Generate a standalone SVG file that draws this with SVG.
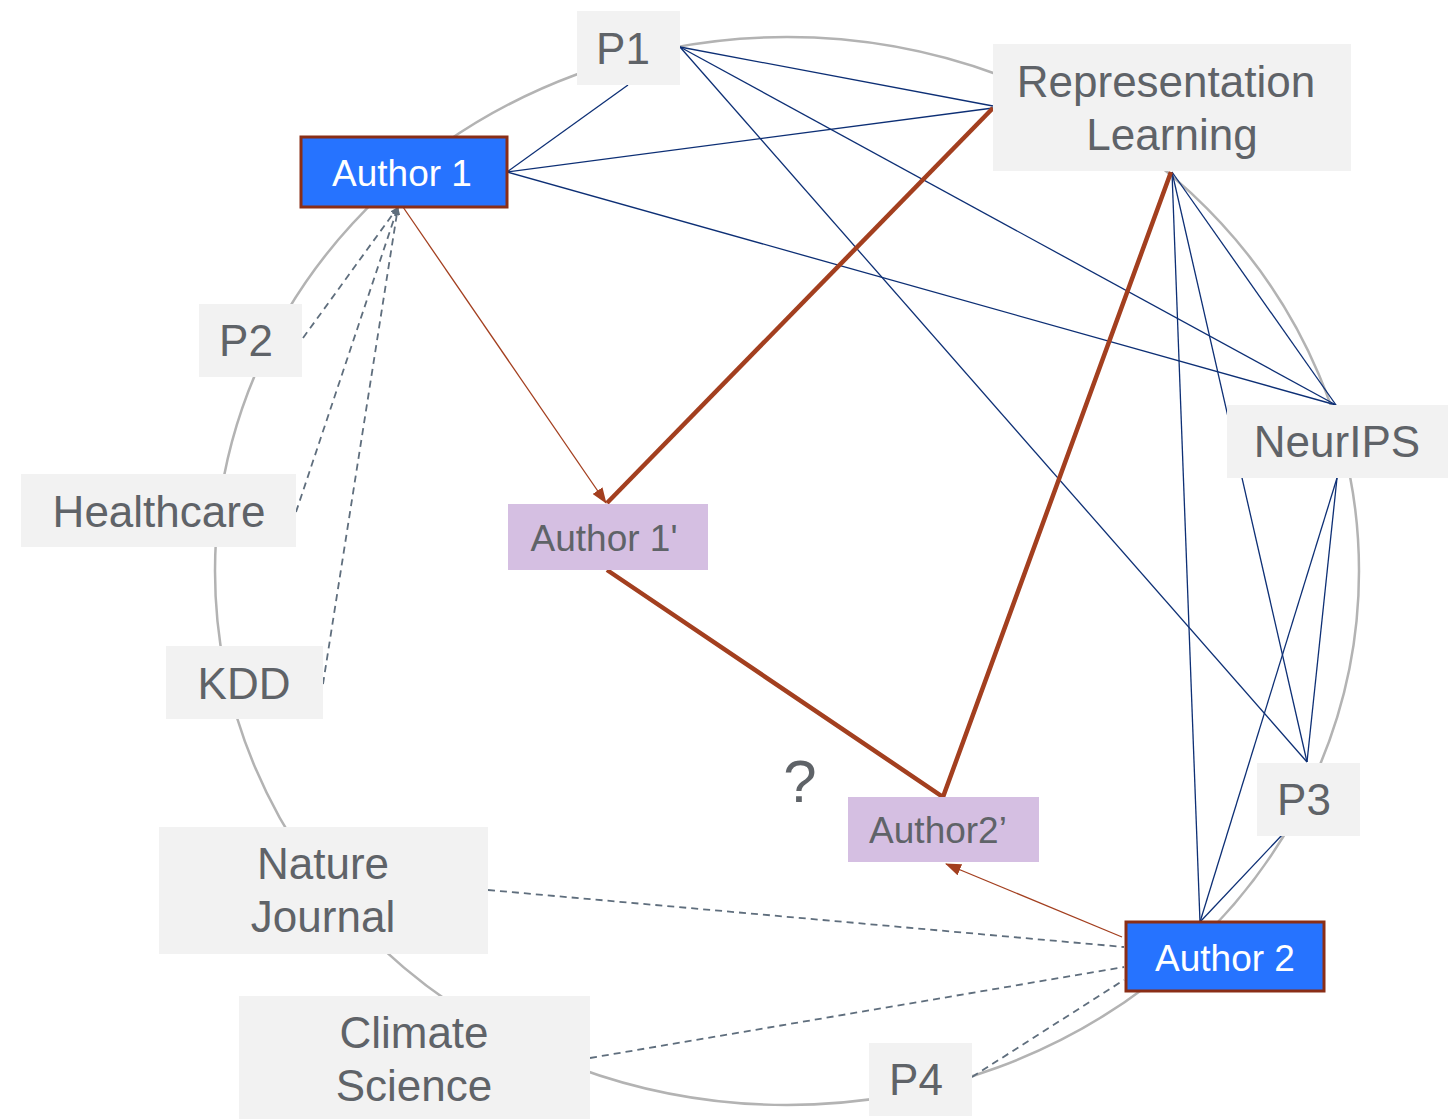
<svg xmlns="http://www.w3.org/2000/svg" width="1448" height="1119" viewBox="0 0 1448 1119">
  <style>
    .venue rect { fill: #f2f2f2; }
    .venue text { font-family: "Liberation Sans", Arial, sans-serif; font-size: 44px; fill: #5f6368; text-anchor: middle; }
    .author rect { fill: #2673ff; stroke: #8a2e17; stroke-width: 3; }
    .author text { font-family: "Liberation Sans", Arial, sans-serif; font-size: 37px; fill: #ffffff; text-anchor: middle; }
    .proxy rect { fill: #d5bfe2; }
    .proxy text { font-family: "Liberation Sans", Arial, sans-serif; font-size: 37px; fill: #5f6368; text-anchor: middle; }
    .ring { fill: none; stroke: #b3b3b3; stroke-width: 2.5; }
    .link { stroke: #0d2f75; stroke-width: 1.3; fill: none; }
    .dash { stroke: #5f6e7d; stroke-width: 1.8; stroke-dasharray: 7 5; fill: none; }
    .walk { stroke: #a33f1f; stroke-width: 4.5; fill: none; stroke-linejoin: miter; }
    .map { stroke: #a33f1f; stroke-width: 1.3; fill: none; }
    .mark { font-family: "Liberation Sans", Arial, sans-serif; font-size: 60px; fill: #5f6368; text-anchor: middle; }
  </style>
  <defs>
    <marker id="arrowRed" markerUnits="userSpaceOnUse" markerWidth="16" markerHeight="12" refX="15" refY="6" orient="auto">
      <path d="M0,0 L16,6 L0,12 Z" fill="#a33f1f"/>
    </marker>
    <marker id="arrowGray" markerUnits="userSpaceOnUse" markerWidth="8" markerHeight="7" refX="8" refY="3.5" orient="auto">
      <path d="M0,0 L8,3.5 L0,7 Z" fill="#5f6e7d"/>
    </marker>
  </defs>

  <rect width="1448" height="1119" fill="#ffffff"/>

  <!-- ring layout guide -->
  <ellipse class="ring" cx="787" cy="571" rx="572" ry="534"/>

  <g id="connectors">
    <!-- co-occurrence links -->
    <line class="link" x1="628" y1="85" x2="507" y2="172"/>
    <line class="link" x1="680" y1="47" x2="993" y2="106"/>
    <line class="link" x1="680" y1="47" x2="1336" y2="405"/>
    <line class="link" x1="680" y1="47" x2="1307" y2="762"/>
    <line class="link" x1="507" y1="172" x2="993" y2="108"/>
    <line class="link" x1="507" y1="172" x2="1336" y2="405"/>
    <line class="link" x1="1172" y1="172" x2="1336" y2="405"/>
    <line class="link" x1="1172" y1="172" x2="1307" y2="762"/>
    <line class="link" x1="1172" y1="172" x2="1200" y2="922"/>
    <line class="link" x1="1337" y1="478" x2="1307" y2="762"/>
    <line class="link" x1="1337" y1="478" x2="1200" y2="922"/>
    <line class="link" x1="1283" y1="834" x2="1200" y2="922"/>

    <!-- dashed links -->
    <line class="dash" x1="303" y1="338" x2="398" y2="207" marker-end="url(#arrowGray)"/>
    <line class="dash" x1="296" y1="512" x2="398" y2="207" marker-end="url(#arrowGray)"/>
    <line class="dash" x1="323" y1="684" x2="398" y2="207" marker-end="url(#arrowGray)"/>
    <line class="dash" x1="488" y1="890" x2="1124" y2="947"/>
    <line class="dash" x1="590" y1="1058" x2="1124" y2="967"/>
    <line class="dash" x1="972" y1="1077" x2="1124" y2="980"/>

    <!-- mapping arrows -->
    <line class="map" x1="403" y1="207" x2="606" y2="503" marker-end="url(#arrowRed)"/>
    <line class="map" x1="1122" y1="937" x2="946" y2="864" marker-end="url(#arrowRed)"/>

    <!-- walk path -->
    <line class="walk" x1="993" y1="108" x2="607" y2="503"/>
    <polyline class="walk" points="607,570 943,797 1171,172"/>
  </g>

  <g id="p1" class="venue">
    <rect x="577" y="11" width="103" height="74"/>
    <text x="623" y="64">P1</text>
  </g>
  <g id="representation-learning" class="venue">
    <rect x="993" y="44" width="358" height="127"/>
    <text x="1166" y="97">Representation</text>
    <text x="1172" y="150">Learning</text>
  </g>
  <g id="author1" class="author">
    <rect x="301" y="137" width="206" height="70"/>
    <text x="402" y="186">Author 1</text>
  </g>
  <g id="p2" class="venue">
    <rect x="199" y="304" width="103" height="73"/>
    <text x="246" y="356">P2</text>
  </g>
  <g id="healthcare" class="venue">
    <rect x="21" y="474" width="275" height="73"/>
    <text x="159" y="527">Healthcare</text>
  </g>
  <g id="kdd" class="venue">
    <rect x="166" y="646" width="157" height="73"/>
    <text x="244" y="699">KDD</text>
  </g>
  <g id="nature-journal" class="venue">
    <rect x="159" y="827" width="329" height="127"/>
    <text x="323" y="879">Nature</text>
    <text x="323" y="932">Journal</text>
  </g>
  <g id="climate-science" class="venue">
    <rect x="239" y="996" width="351" height="123"/>
    <text x="414" y="1048">Climate</text>
    <text x="414" y="1101">Science</text>
  </g>
  <g id="p4" class="venue">
    <rect x="869" y="1043" width="103" height="73"/>
    <text x="916" y="1095">P4</text>
  </g>
  <g id="p3" class="venue">
    <rect x="1257" y="763" width="103" height="73"/>
    <text x="1304" y="815">P3</text>
  </g>
  <g id="neurips" class="venue">
    <rect x="1227" y="405" width="221" height="73"/>
    <text x="1337" y="457">NeurIPS</text>
  </g>
  <g id="author2" class="author">
    <rect x="1126" y="922" width="198" height="69"/>
    <text x="1225" y="971">Author 2</text>
  </g>
  <g id="author1-prime" class="proxy">
    <rect x="508" y="504" width="200" height="66"/>
    <text x="604" y="551">Author 1'</text>
  </g>
  <g id="author2-prime" class="proxy">
    <rect x="848" y="797" width="191" height="65"/>
    <text x="938" y="843">Author2’</text>
  </g>

  <text class="mark" x="800" y="802">?</text>
</svg>
